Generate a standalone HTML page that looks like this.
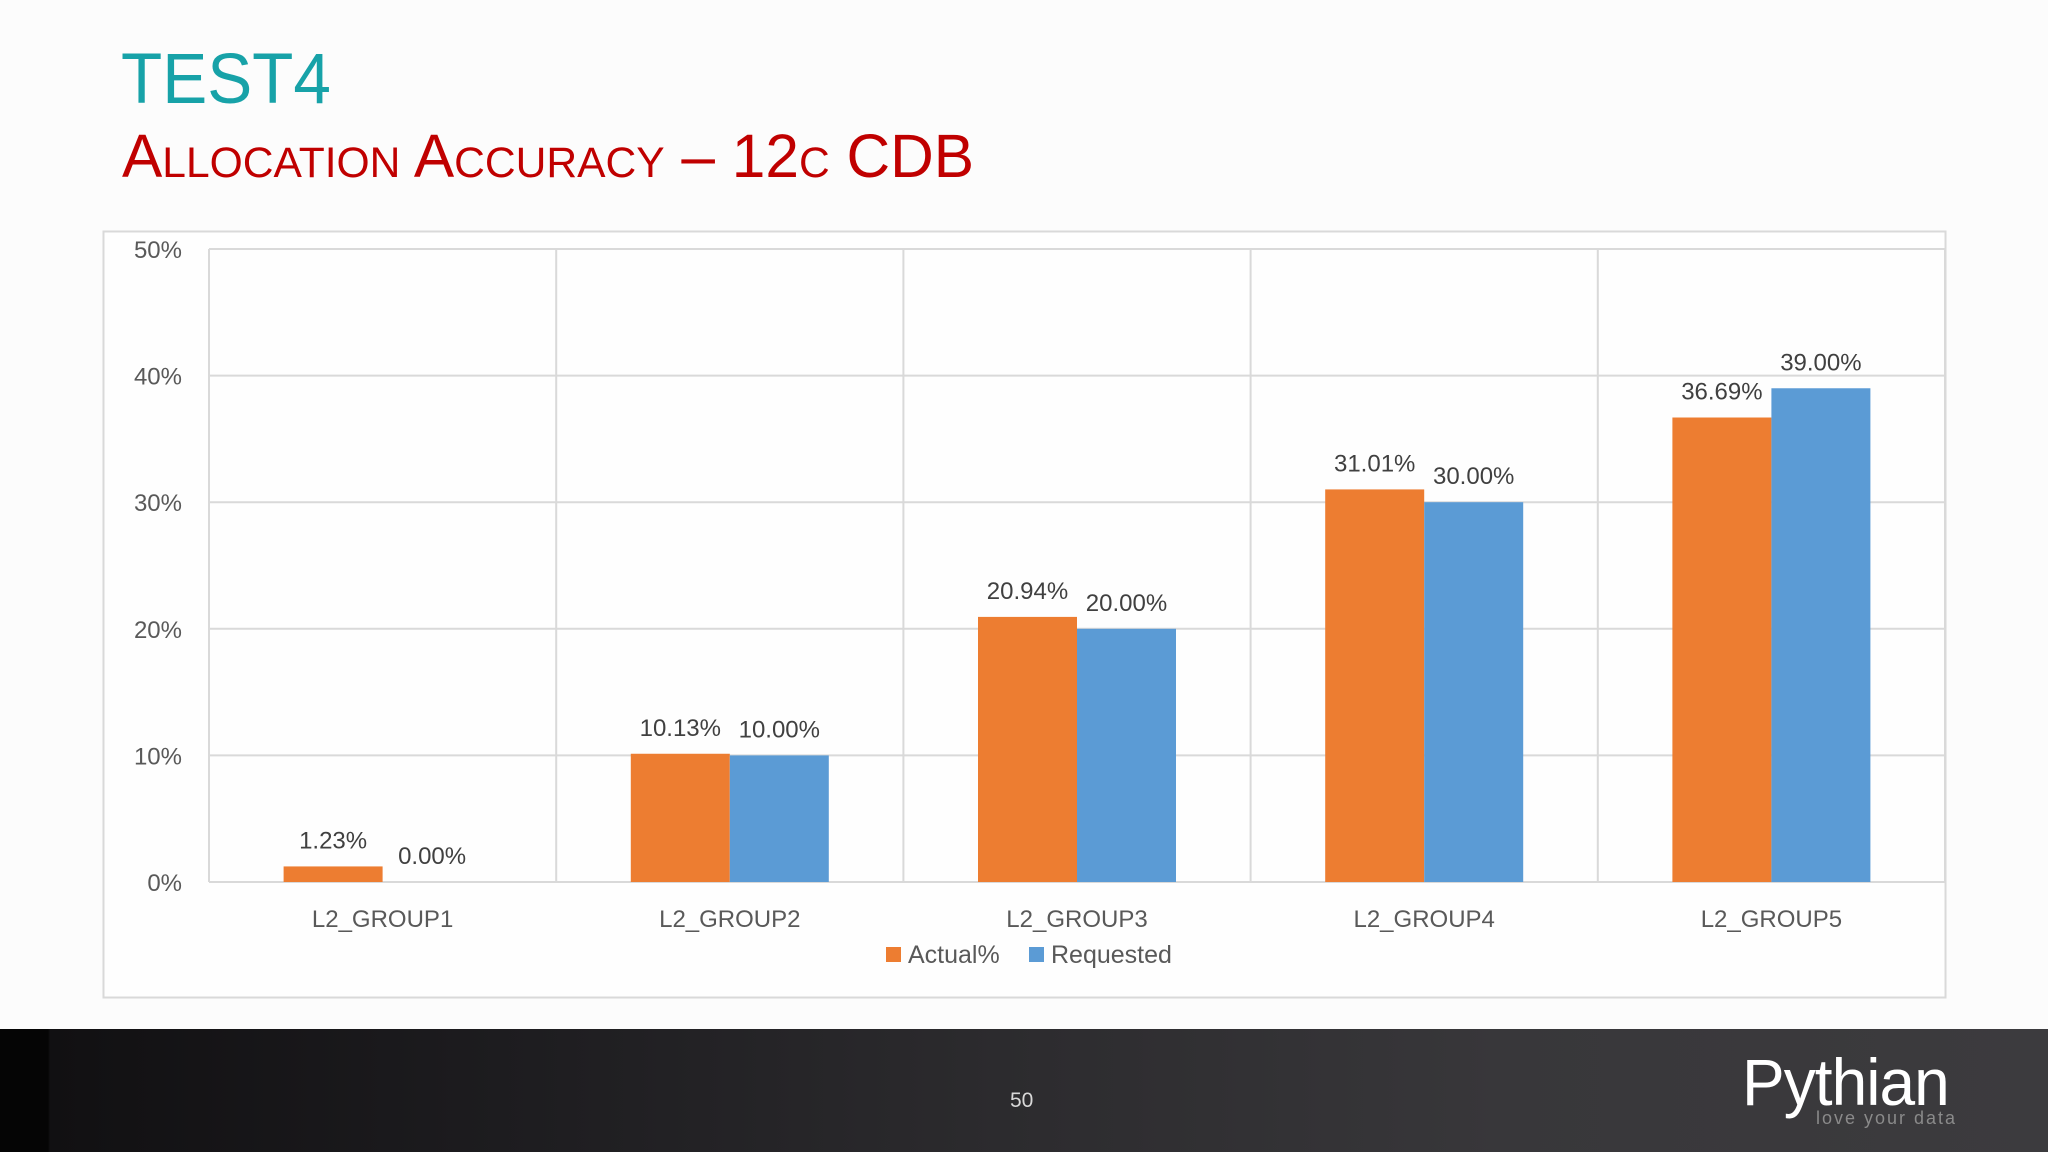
<!DOCTYPE html>
<html><head><meta charset="utf-8">
<style>
html,body{margin:0;padding:0;}
body{width:2048px;height:1152px;position:relative;overflow:hidden;background:#fcfcfc;font-family:"Liberation Sans",sans-serif;}
#title{position:absolute;left:121px;top:44px;font-size:71px;color:#17a2a8;margin:0;font-weight:normal;line-height:1;transform:scaleX(0.95);transform-origin:left;}
#subtitle{position:absolute;left:122px;top:126px;font-size:61px;color:#c00000;margin:0;font-weight:normal;line-height:1;font-variant:small-caps;transform:scaleX(0.99);transform-origin:left;}
#footer{position:absolute;left:0;top:1029px;width:2048px;height:123px;background:linear-gradient(90deg,#050505 0px,#050505 48px,#111012 50px,#1d1c1f 500px,#2c2b2e 1000px,#38373a 1500px,#3c3b3e 2048px);}
#pnum{position:absolute;left:1010px;top:1089px;font-size:21px;color:#d8d8d8;}
#logo{position:absolute;left:1742px;top:1044px;font-size:66px;color:#fff;letter-spacing:-1px;transform:scaleX(0.97);transform-origin:left;}
#tag{position:absolute;left:1816px;top:1108px;font-size:18px;color:#8a8a8a;letter-spacing:2px;}
</style></head><body>
<h1 id="title">TEST4</h1>
<h2 id="subtitle">Allocation Accuracy – 12c CDB</h2>
<svg id="chart" width="2048" height="1152" style="position:absolute;left:0;top:0" xmlns="http://www.w3.org/2000/svg">
<rect x="103.5" y="231.5" width="1842" height="766" fill="#fefefe" stroke="#d9d9d9" stroke-width="2"/>
<g id="grid"></g><g id="bars"></g><g id="labels"></g>
</svg>
<div id="footer"></div>
<div id="pnum">50</div>
<div id="logo">Pythian</div>
<div id="tag">love your data</div>
<script>
const categories=["L2_GROUP1","L2_GROUP2","L2_GROUP3","L2_GROUP4","L2_GROUP5"];
const actual=[1.23,10.13,20.94,31.01,36.69];
const requested=[0.00,10.00,20.00,30.00,39.00];
const yTicks=[0,10,20,30,40,50];
const seriesNames=["Actual%","Requested"];
const colors=["#ed7d31","#5b9bd5"];
const NS="http://www.w3.org/2000/svg";
const L=209,R=1945,T=249,B=882;
const yMax=50;
function y(v){return B-(v/yMax)*(B-T);}
const cw=(R-L)/categories.length;
function cx(i){return L+cw*(i+0.5);}
const bw=99;
function mk(tag,attrs,parent,text){const e=document.createElementNS(NS,tag);for(const k in attrs)e.setAttribute(k,attrs[k]);if(text!==undefined)e.textContent=text;document.getElementById(parent).appendChild(e);return e;}
yTicks.forEach(t=>{
  const l=mk('line',{x1:L,x2:R,y1:y(t),y2:y(t),stroke:'#d9d9d9','stroke-width':2},'grid');
  
  
  const tx=mk('text',{x:182,y:y(t)+9,'text-anchor':'end','font-size':24,fill:'#595959','font-family':'Liberation Sans, sans-serif'},'labels',t+'%');
  
  
});
for(let i=0;i<=categories.length;i++){
  const l=mk('line',{x1:L+cw*i,x2:L+cw*i,y1:T,y2:B,stroke:'#d9d9d9','stroke-width':2},'grid');
  
  
}
[actual,requested].forEach((ser,s)=>{
  ser.forEach((v,i)=>{
    const x0=cx(i)-bw+s*bw;
    const r=mk('rect',{x:x0,y:y(v),width:bw,height:B-y(v),fill:colors[s]},'bars');
    
    
    const t=mk('text',{x:x0+bw/2,y:y(v)-18,'text-anchor':'middle','font-size':24,fill:'#404040','font-family':'Liberation Sans, sans-serif'},'labels',v.toFixed(2)+'%');
    
    
  });
});
categories.forEach((c,i)=>{
  const t=mk('text',{x:cx(i),y:927,'text-anchor':'middle','font-size':24,fill:'#595959','font-family':'Liberation Sans, sans-serif'},'labels',c);
  
  
});
const lx=[886,1029];
seriesNames.forEach((n,s)=>{
  const r=mk('rect',{x:lx[s],y:947,width:15,height:15,fill:colors[s]},'labels');
  
  
  const t=mk('text',{x:lx[s]+22,y:963,'font-size':25,fill:'#595959','font-family':'Liberation Sans, sans-serif'},'labels',n);
  
  
});
</script>
</body></html>
